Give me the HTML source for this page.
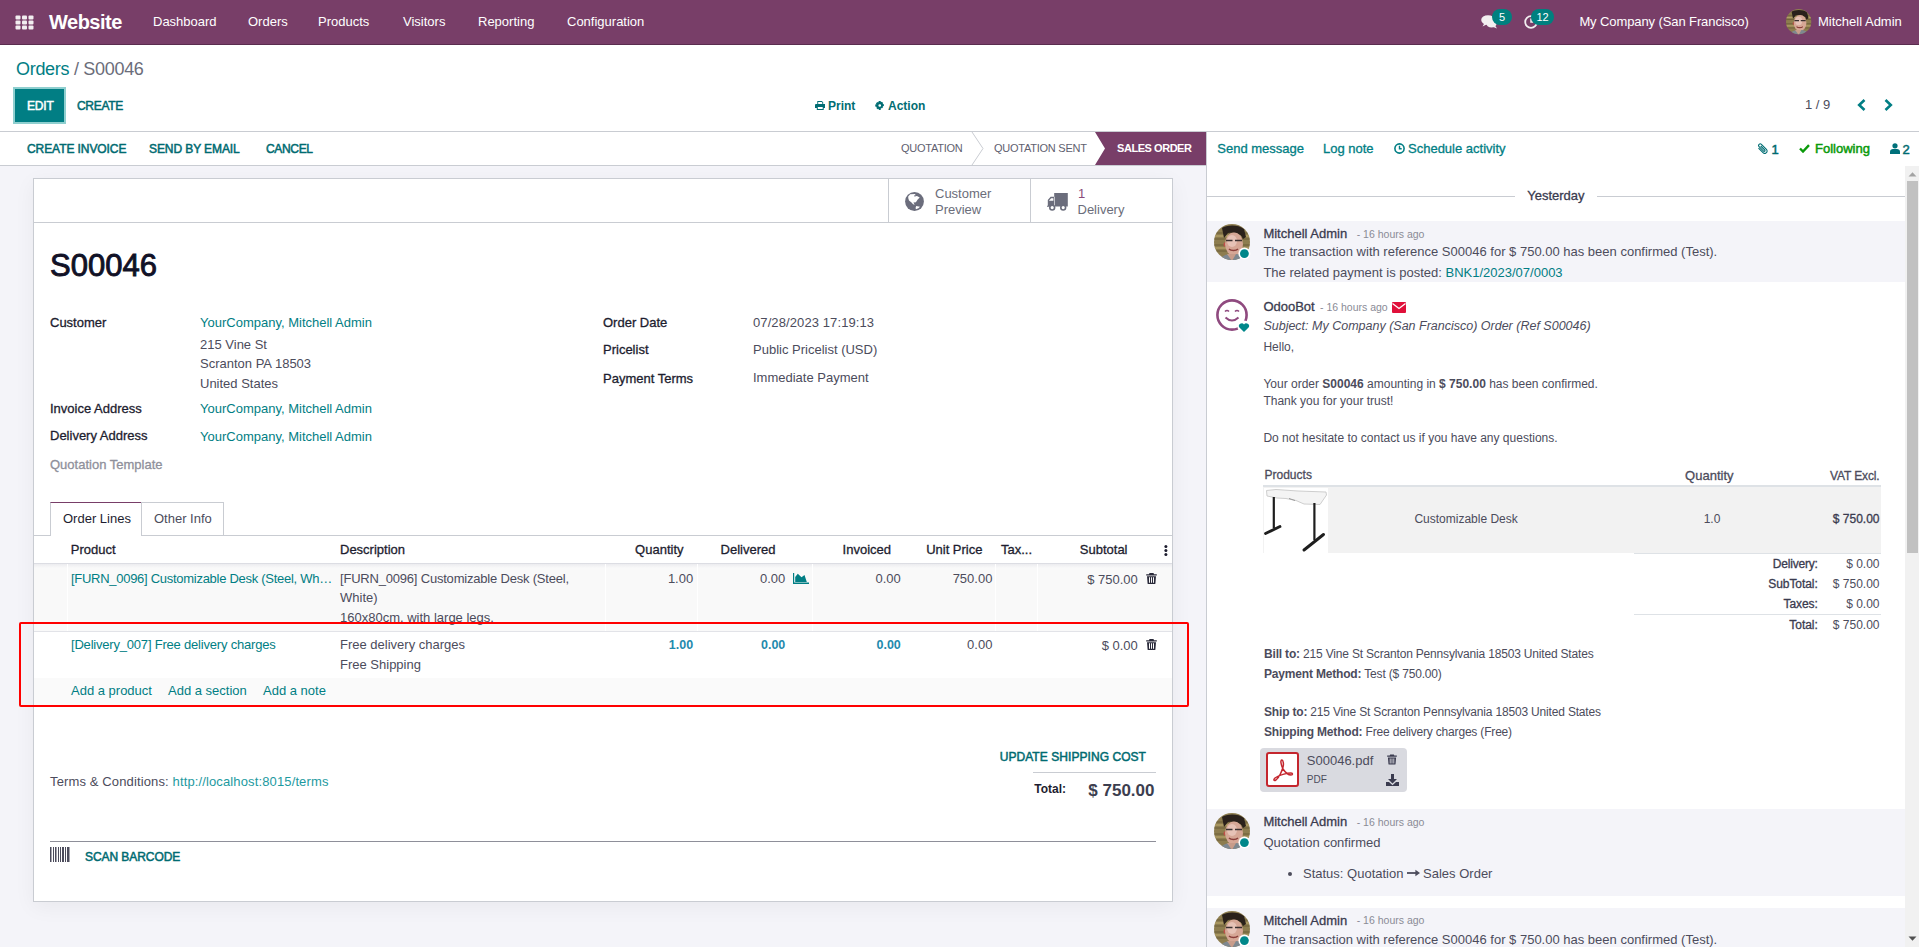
<!DOCTYPE html>
<html><head><meta charset="utf-8">
<style>
*{box-sizing:border-box;margin:0;padding:0}
html,body{width:1919px;height:947px;overflow:hidden;background:#fff;font-family:"Liberation Sans",sans-serif;font-size:13px;color:#4c4c5c}
.a{position:absolute;white-space:nowrap;line-height:1}
.b{font-weight:bold}
.m{-webkit-text-stroke:0.3px currentColor}
.ms{-webkit-text-stroke:0.5px currentColor}
.tl.ms{color:#006b71}
.tl{color:#017e84}
#nav{position:absolute;left:0;top:0;width:1919px;height:45px;background:#783e68;border-bottom:1px solid #5a2c4e}
#nav .a{color:#fff}
.badge{position:absolute;height:16px;border-radius:8px;background:#00807f;color:#fff;font-size:11px;line-height:16px;text-align:center}
#cp{position:absolute;left:0;top:45px;width:1919px;height:87px;background:#fff;border-bottom:1px solid #c9ccd2}
#left{position:absolute;left:0;top:132px;width:1206px;height:815px;background:#f4f4f9}
#sbar{position:absolute;left:0;top:0;width:1206px;height:34px;background:#fff;border-bottom:1px solid #c9ccd2}
#sheet{position:absolute;left:33px;top:46px;width:1140px;height:724px;background:#fff;border:1px solid #c9ccd2;box-shadow:0 5px 20px rgba(0,0,0,.05)}
#chat{position:absolute;left:1206px;top:132px;width:713px;height:815px;background:#fff;border-left:1px solid #c9ccd2}
</style></head>
<body>
<div id="nav">
  <svg class="a" style="left:15px;top:15px" width="19" height="15" viewBox="0 0 19 15">
    <g fill="#f2eef0">
      <rect x="0.5" y="0.5" width="5" height="4" rx="1"/><rect x="7" y="0.5" width="5" height="4" rx="1"/><rect x="13.5" y="0.5" width="5" height="4" rx="1"/>
      <rect x="0.5" y="5.5" width="5" height="4" rx="1"/><rect x="7" y="5.5" width="5" height="4" rx="1"/><rect x="13.5" y="5.5" width="5" height="4" rx="1"/>
      <rect x="0.5" y="10.5" width="5" height="4" rx="1"/><rect x="7" y="10.5" width="5" height="4" rx="1"/><rect x="13.5" y="10.5" width="5" height="4" rx="1"/>
    </g>
  </svg>
  <div class="a b" style="left:49px;top:12px;font-size:20px;letter-spacing:-0.5px">Website</div>
  <div class="a" style="left:153px;top:15px">Dashboard</div>
  <div class="a" style="left:248px;top:15px">Orders</div>
  <div class="a" style="left:318px;top:15px">Products</div>
  <div class="a" style="left:403px;top:15px">Visitors</div>
  <div class="a" style="left:478px;top:15px">Reporting</div>
  <div class="a" style="left:567px;top:15px">Configuration</div>
</div>
<div id="cp"></div>
<div class="a tl" style="left:16px;top:59.7px;font-size:18px;letter-spacing:-0.3px">Orders <span style="color:#6b6d7a">/ S00046</span></div>
<div class="a" style="left:13px;top:87px;width:53px;height:37px;border:2px solid #8fcfcf;background:#017e84"></div>
<div class="a ms" style="left:27px;top:100px;font-size:12px;color:#fff;letter-spacing:-0.2px">EDIT</div>
<div class="a tl ms" style="left:77px;top:100px;font-size:12px;letter-spacing:-0.3px">CREATE</div>
<svg class="a" style="left:814.5px;top:101px" width="10.5" height="9" viewBox="0 0 10.5 9"><path fill="#016d73" fill-rule="evenodd" d="M2.3 0h4.6l1.3 1.2v1.8h1.3a1 1 0 0 1 1 1v3h-1.8v2H1.8v-2H0v-3a1 1 0 0 1 1-1h1.3zM3.2 0.9v2.1h4.1V1.6L6.6 0.9zM2.8 6v2.1h4.9V6z"/></svg>
<div class="a b tl" style="left:828px;top:100px;font-size:12px;color:#016d73">Print</div>
<svg class="a" style="left:875px;top:101px" width="9.5" height="9" viewBox="0 0 10 10"><path fill="#016d73" fill-rule="evenodd" d="M4 0h2l.3 1.4 1-.6 1.5 1.4-.6 1 1.4.3v2l-1.4.3.6 1-1.4 1.4-1-.6L6 10H4l-.3-1.4-1 .6-1.5-1.4.6-1L0 6V4l1.4-.3-.6-1L2.2 1.2l1 .6zM5 3.5a1.5 1.5 0 1 0 0 3 1.5 1.5 0 0 0 0-3z"/></svg>
<div class="a b tl" style="left:888px;top:100px;font-size:12px;color:#016d73">Action</div>
<div class="a" style="left:1805px;top:98px;font-size:13px;color:#4c4c5c">1 / 9</div>
<svg class="a" style="left:1857px;top:99px" width="9" height="12" viewBox="0 0 9 12"><path fill="none" stroke="#017e84" stroke-width="2.6" d="M7.5 1L2.2 6l5.3 5"/></svg>
<svg class="a" style="left:1884px;top:99px" width="9" height="12" viewBox="0 0 9 12"><path fill="none" stroke="#017e84" stroke-width="2.6" d="M1.5 1l5.3 5-5.3 5"/></svg>
<div id="left">
  <div id="sbar"></div>
  <div id="sheet"></div>
</div>
<div class="a tl ms" style="left:27px;top:143px;font-size:12px;letter-spacing:-0.08px">CREATE INVOICE</div>
<div class="a tl ms" style="left:149px;top:143px;font-size:12px;letter-spacing:-0.09px">SEND BY EMAIL</div>
<div class="a tl ms" style="left:266px;top:143px;font-size:12px;letter-spacing:-0.33px">CANCEL</div>
<div class="a" style="left:901px;top:143px;font-size:11px;color:#5f6170;letter-spacing:-0.25px">QUOTATION</div>
<svg class="a" style="left:970px;top:132px" width="15" height="33" viewBox="0 0 15 33"><path fill="none" stroke="#c9ccd2" stroke-width="1" d="M2 0L13 16.5L2 33"/></svg>
<div class="a" style="left:994px;top:143px;font-size:11px;color:#5f6170;letter-spacing:-0.25px">QUOTATION SENT</div>
<svg class="a" style="left:1095px;top:132px" width="111" height="33" viewBox="0 0 111 33"><path fill="#783e68" d="M0 0H111V33H0L10 16.5z"/></svg>
<div class="a b" style="left:1117px;top:143px;font-size:11px;color:#fff;letter-spacing:-0.45px">SALES ORDER</div>
<div id="chat">
</div>
<div class="a" style="left:34px;top:179px;width:1138px;height:44px;border-bottom:1px solid #c9ccd2"></div>
<div class="a" style="left:888px;top:179px;width:1px;height:44px;background:#c9ccd2"></div>
<div class="a" style="left:1030px;top:179px;width:1px;height:44px;background:#c9ccd2"></div>
<svg class="a" style="left:905px;top:192px" width="19" height="19" viewBox="0 0 19 19"><circle cx="9.5" cy="9.5" r="9.4" fill="#6b6d7c"/><path fill="#fff" d="M3.2 4.6L5.2 2.3 10.6 2.1 9.8 3.3 11 4 12.5 4.3 14.7 5.5 12.5 7.8 10.9 10.3 8.4 10.6 9.7 12.8 8.1 12.2 6.5 10.6 4 8.4 3.3 6.2z"/><path fill="#6b6d7c" d="M9.3 3.2h1.4v1.3H9.3z"/><path fill="#fff" d="M11.2 14.1L15 14.7 13.4 16.3 10.9 17.3 10.6 15.7z"/></svg>
<div class="a " style="left:935px;top:187.0px;font-size:13px;color:#6b6d7a">Customer</div>
<div class="a " style="left:935px;top:202.6px;font-size:13px;color:#6b6d7a">Preview</div>
<svg class="a" style="left:1047px;top:192px" width="22" height="19" viewBox="0 0 22 19"><path fill="#6b6d7c" d="M7.2 1.1H20.8V14.6H7.2zM7.8 4.8H3.6L0.8 7.9V13.8H0V14.8H7.8z"/><path fill="#fff" d="M2.1 8.6L4.2 6.3H6.4V8.8H2.1z"/><circle cx="5.2" cy="15.6" r="2.4" fill="#fff" stroke="#6b6d7c" stroke-width="1.6"/><circle cx="16.2" cy="15.6" r="2.4" fill="#fff" stroke="#6b6d7c" stroke-width="1.6"/></svg>
<div class="a " style="left:1078px;top:187.0px;font-size:13px;color:#8a4a7a">1</div>
<div class="a " style="left:1077.5px;top:202.6px;font-size:13px;color:#6b6d7a">Delivery</div>
<div class="a" style="left:50px;top:250px;font-size:31px;color:#111126;-webkit-text-stroke:0.9px #111126">S00046</div>
<div class="a m" style="left:50px;top:316.27px;font-size:13px;color:#1d1d2f;">Customer</div>
<div class="a tl" style="left:200px;top:316.0px;font-size:13px;">YourCompany, Mitchell Admin</div>
<div class="a " style="left:200px;top:338.3px;font-size:13px;color:#4c4c5c">215 Vine St</div>
<div class="a " style="left:200px;top:357.0px;font-size:13px;color:#4c4c5c">Scranton PA 18503</div>
<div class="a " style="left:200px;top:376.8px;font-size:13px;color:#4c4c5c">United States</div>
<div class="a m" style="left:50px;top:401.87px;font-size:13px;color:#1d1d2f;">Invoice Address</div>
<div class="a tl" style="left:200px;top:402.0px;font-size:13px;">YourCompany, Mitchell Admin</div>
<div class="a m" style="left:50px;top:429.37px;font-size:13px;color:#1d1d2f;">Delivery Address</div>
<div class="a tl" style="left:200px;top:429.5px;font-size:13px;">YourCompany, Mitchell Admin</div>
<div class="a m" style="left:50px;top:457.67px;font-size:13px;color:#8f909b">Quotation Template</div>
<div class="a m" style="left:603px;top:315.87px;font-size:13px;color:#1d1d2f;">Order Date</div>
<div class="a " style="left:753px;top:315.5px;font-size:13px;color:#4c4c5c;letter-spacing:0.1px">07/28/2023 17:19:13</div>
<div class="a m" style="left:603px;top:343.47px;font-size:13px;color:#1d1d2f;">Pricelist</div>
<div class="a " style="left:753px;top:343.0px;font-size:13px;color:#4c4c5c">Public Pricelist (USD)</div>
<div class="a m" style="left:603px;top:371.67px;font-size:13px;color:#1d1d2f;">Payment Terms</div>
<div class="a " style="left:753px;top:371.0px;font-size:13px;color:#4c4c5c">Immediate Payment</div>
<div class="a" style="left:34px;top:535px;width:1138px;height:1px;background:#c9ccd2"></div>
<div class="a" style="left:50px;top:502px;width:92px;height:34px;background:#fff;border:1px solid #c9ccd2;border-top-color:#783e68;border-bottom:none"></div>
<div class="a" style="left:141px;top:502px;width:83px;height:34px;background:#fff;border:1px solid #c9ccd2;border-bottom:none"></div>
<div class="a" style="left:141px;top:535px;width:83px;height:1px;background:#c9ccd2"></div>
<div class="a " style="left:63px;top:512.0px;font-size:13px;color:#1d1d2f">Order Lines</div>
<div class="a " style="left:154px;top:512.0px;font-size:13px;color:#4c4c5c">Other Info</div>
<div class="a" style="left:34px;top:563px;width:1138px;height:1px;background:#dcdde3"></div>
<div class="a m" style="left:70.8px;top:542.87px;font-size:13px;color:#1d1d2f">Product</div>
<div class="a m" style="left:340px;top:542.87px;font-size:13px;color:#1d1d2f">Description</div>
<div class="a m" style="right:1235.5px;top:542.87px;font-size:13px;color:#1d1d2f">Quantity</div>
<div class="a m" style="right:1143.5px;top:542.87px;font-size:13px;color:#1d1d2f">Delivered</div>
<div class="a m" style="right:1028px;top:542.87px;font-size:13px;color:#1d1d2f">Invoiced</div>
<div class="a m" style="right:936.5px;top:542.87px;font-size:13px;color:#1d1d2f">Unit Price</div>
<div class="a m" style="left:1001px;top:542.87px;font-size:13px;color:#1d1d2f">Tax...</div>
<div class="a m" style="right:791.5px;top:542.87px;font-size:13px;color:#1d1d2f">Subtotal</div>
<svg class="a" style="left:1164px;top:545px" width="4" height="11" viewBox="0 0 4 11"><g fill="#1d1d2f"><circle cx="1.9" cy="1.5" r="1.5"/><circle cx="1.9" cy="5.5" r="1.5"/><circle cx="1.9" cy="9.5" r="1.5"/></g></svg>
<div class="a" style="left:34px;top:564px;width:1138px;height:67px;background:#f9f9f9"></div>
<div class="a" style="left:34px;top:564px;width:1138px;height:4px;background:linear-gradient(#ececef,#f9f9f9)"></div>
<div class="a" style="left:34px;top:631px;width:1138px;height:1px;background:#e2e3e8"></div>
<div class="a" style="left:34px;top:632px;width:1138px;height:46px;background:#ffffff"></div>
<div class="a" style="left:34px;top:678px;width:1138px;height:27px;background:#fafafa"></div>
<div class="a" style="left:67px;top:564px;width:1px;height:67px;background:#ffffff"></div>
<div class="a" style="left:605px;top:564px;width:1px;height:67px;background:#ffffff"></div>
<div class="a" style="left:697px;top:564px;width:1px;height:67px;background:#ffffff"></div>
<div class="a" style="left:812px;top:564px;width:1px;height:67px;background:#ffffff"></div>
<div class="a" style="left:995px;top:564px;width:1px;height:67px;background:#ffffff"></div>
<div class="a" style="left:1037px;top:564px;width:1px;height:67px;background:#ffffff"></div>
<div class="a tl" style="left:71px;top:572.2px;font-size:13px;letter-spacing:-0.28px">[FURN_0096] Customizable Desk (Steel, Wh…</div>
<div class="a " style="left:340px;top:572.2px;font-size:13px;color:#4c4c5c;letter-spacing:-0.2px">[FURN_0096] Customizable Desk (Steel,</div>
<div class="a " style="left:340px;top:590.7px;font-size:13px;color:#4c4c5c">White)</div>
<div class="a " style="left:340px;top:610.8px;font-size:13px;color:#4c4c5c">160x80cm, with large legs.</div>
<div class="a " style="right:1225.8px;top:572.0px;font-size:13px;color:#4c4c5c">1.00</div>
<div class="a " style="right:1133.7px;top:572.0px;font-size:13px;color:#4c4c5c">0.00</div>
<svg class="a" style="left:793px;top:573px" width="16" height="11" viewBox="0 0 16 11"><path fill="#017e84" d="M0 0h1.2v9.6H16V11H0z"/><path fill="#017e84" d="M2.2 9V4l2.6-3.2L8.5 4.3l3-2.2L13.8 9z"/></svg>
<div class="a " style="right:1018.2px;top:572.0px;font-size:13px;color:#4c4c5c">0.00</div>
<div class="a " style="right:926.6px;top:572.0px;font-size:13px;color:#4c4c5c">750.00</div>
<div class="a " style="right:781.2px;top:573.0px;font-size:13px;color:#4c4c5c">$ 750.00</div>
<svg class="a" style="left:1145.5px;top:573px" width="11" height="11" viewBox="0 0 11 11"><path fill="#2a2a3a" d="M3.5 0h4l.5 1.2h2.8v1.4H0.2V1.2H3zM1 3.2h9l-.6 7.2a.7.7 0 0 1-.7.6H2.3a.7.7 0 0 1-.7-.6zM3 4.3v5.5h1V4.3zM5 4.3v5.5h1V4.3zM7 4.3v5.5h1V4.3z"/></svg>
<div class="a tl" style="left:71px;top:638.0px;font-size:13px;letter-spacing:-0.2px">[Delivery_007] Free delivery charges</div>
<div class="a " style="left:340px;top:638.0px;font-size:13px;color:#4c4c5c">Free delivery charges</div>
<div class="a " style="left:340px;top:658.0px;font-size:13px;color:#4c4c5c">Free Shipping</div>
<div class="a " style="right:1225.8px;top:638.5px;font-size:13px;color:#1f8aad;font-weight:bold;font-size:12.5px">1.00</div>
<div class="a " style="right:1133.7px;top:638.5px;font-size:13px;color:#1f8aad;font-weight:bold;font-size:12.5px">0.00</div>
<div class="a " style="right:1018.2px;top:638.5px;font-size:13px;color:#1f8aad;font-weight:bold;font-size:12.5px">0.00</div>
<div class="a " style="right:926.6px;top:638.0px;font-size:13px;color:#4c4c5c">0.00</div>
<div class="a " style="right:781.2px;top:639.0px;font-size:13px;color:#4c4c5c">$ 0.00</div>
<svg class="a" style="left:1145.5px;top:638.5px" width="11" height="11" viewBox="0 0 11 11"><path fill="#2a2a3a" d="M3.5 0h4l.5 1.2h2.8v1.4H0.2V1.2H3zM1 3.2h9l-.6 7.2a.7.7 0 0 1-.7.6H2.3a.7.7 0 0 1-.7-.6zM3 4.3v5.5h1V4.3zM5 4.3v5.5h1V4.3zM7 4.3v5.5h1V4.3z"/></svg>
<div class="a tl" style="left:71px;top:683.8px;font-size:13px;">Add a product</div>
<div class="a tl" style="left:168px;top:683.8px;font-size:13px;">Add a section</div>
<div class="a tl" style="left:263px;top:683.8px;font-size:13px;">Add a note</div>
<div class="a" style="left:19px;top:622px;width:1170px;height:85px;border:2px solid #ff0000;border-radius:2px"></div>
<div class="a tl ms" style="right:773px;top:750.5px;font-size:12px;letter-spacing:0.06px">UPDATE SHIPPING COST</div>
<div class="a" style="left:1033px;top:772px;width:123px;height:1px;background:#c9ccd2"></div>
<div class="a b" style="left:1034.3px;top:782.6px;font-size:12px;color:#1d1d2f">Total:</div>
<div class="a b" style="right:764.5px;top:782.0px;font-size:17px;color:#3c3e4f">$ 750.00</div>
<div class="a " style="left:50px;top:774.5px;font-size:13px;color:#4c4c5c;letter-spacing:0.13px">Terms &amp; Conditions: <span style="color:#1d9a9f">http://localhost:8015/terms</span></div>
<div class="a" style="left:50px;top:841px;width:1106px;height:1px;background:#8e8f99"></div>
<svg class="a" style="left:50px;top:847px" width="21" height="16" viewBox="0 0 21 16"><g fill="#4c4c5c"><rect x="0" width="1.5" height="15"/><rect x="3" width="1" height="15"/><rect x="5" width="1.5" height="15"/><rect x="8" width="1" height="15"/><rect x="10" width="1" height="15"/><rect x="12" width="2" height="15"/><rect x="15" width="1" height="15"/><rect x="17" width="2.5" height="15"/></g></svg>
<div class="a tl ms" style="left:85px;top:850.9px;font-size:12px;letter-spacing:-0.06px">SCAN BARCODE</div>
<div class="a tl m" style="left:1217.3px;top:142.07px;font-size:13px;">Send message</div>
<div class="a tl m" style="left:1323px;top:142.07px;font-size:13px;">Log note</div>
<svg class="a" style="left:1394px;top:143px" width="11" height="11" viewBox="0 0 11 11"><circle cx="5.5" cy="5.5" r="4.6" fill="none" stroke="#017e84" stroke-width="1.6"/><path fill="none" stroke="#017e84" stroke-width="1.4" d="M5.5 2.8v3h2.2"/></svg>
<div class="a tl m" style="left:1408px;top:142.07px;font-size:13px;">Schedule activity</div>
<svg class="a" style="left:1757px;top:143px" width="11" height="11" viewBox="0 0 11 11"><g transform="translate(11 0) scale(-1 1)"><path fill="none" stroke="#016d73" stroke-width="1.1" d="M9.5 5.2L5 9.7a2.4 2.4 0 0 1-3.4-3.4L6.6 1.3a1.6 1.6 0 0 1 2.3 2.3L4.2 8.3a.8.8 0 0 1-1.1-1.1L7.3 3"/></g></svg>
<div class="a tl ms" style="left:1771.5px;top:142.57px;font-size:13px;">1</div>
<svg class="a" style="left:1799px;top:144px" width="11" height="9" viewBox="0 0 11 9"><path fill="none" stroke="#0a9a0a" stroke-width="2.4" d="M1 4.5l3 3L10 1.2"/></svg>
<div class="a ms" style="left:1815px;top:142.07px;font-size:13px;color:#0a9a0a;">Following</div>
<svg class="a" style="left:1890px;top:143px" width="10" height="11" viewBox="0 0 10 11"><circle cx="5" cy="2.8" r="2.6" fill="#00707a"/><path fill="#00707a" d="M0 11V8.6C0 7 1.4 6 3 6h4c1.6 0 3 1 3 2.6V11z"/></svg>
<div class="a tl ms" style="left:1902.6px;top:142.57px;font-size:13px;">2</div>
<div class="a" style="left:1905px;top:166px;width:14px;height:781px;background:#f1f1f1"></div>
<div class="a" style="left:1907px;top:181px;width:11px;height:372px;background:#c1c1c1"></div>
<svg class="a" style="left:1908px;top:171px" width="9" height="6" viewBox="0 0 9 6"><path fill="#a3a3a3" d="M0.5 5.5L4.5 1.2L8.5 5.5z"/></svg>
<svg class="a" style="left:1908px;top:936px" width="9" height="6" viewBox="0 0 9 6"><path fill="#505050" d="M0.5 0.5L4.5 4.8L8.5 0.5z"/></svg>
<div class="a" style="left:1207px;top:196px;width:308px;height:1px;background:#c9ccd2"></div>
<div class="a" style="left:1597px;top:196px;width:308px;height:1px;background:#c9ccd2"></div>
<div class="a m" style="left:1527.2px;top:189.47px;font-size:13px;color:#3a3b4f">Yesterday</div>
<div class="a" style="left:1207px;top:221px;width:698px;height:61px;background:#f4f4f9"></div>
<svg class="a" style="left:1214px;top:223.7px" width="37" height="37" viewBox="0 0 37 37">
<defs><clipPath id="c1"><circle cx="18" cy="18" r="18"/></clipPath></defs>
<g clip-path="url(#c1)"><rect width="37" height="37" fill="#8d7d4f"/>
<path d="M0 9h37M0 15h37M0 21h37M0 27h37" stroke="#6d5f38" stroke-width="1.2"/><path d="M0 12h37M0 24h37" stroke="#b09d66" stroke-width="1.5"/>
<path d="M8 4C12 1 24 0 30 5l2 8-3 2C27 9 20 8 14 9l-4 5z" fill="#2a211b"/>
<ellipse cx="20" cy="20" rx="9" ry="11.5" fill="#d6a796"/><ellipse cx="18" cy="17" rx="5" ry="6" fill="#e6c2b6"/>
<path d="M12 16.5h6.5M21 16.5h7" stroke="#3a3030" stroke-width="1.6"/>
<path d="M15 25c2 2 7 2 9 0" stroke="#8a3f3a" stroke-width="1.5" fill="none"/><path d="M11 18c-2 1-2 4 0 5z" fill="#c0504a"/>
<path d="M6 37c1-5 5-7 13-7s12 2 13 7z" fill="#7e8890"/><path d="M13 30l5 7 4-7z" fill="#c89c8a"/></g>
<circle cx="30.4" cy="29.6" r="6" fill="#fff"/><circle cx="30.4" cy="29.6" r="4.4" fill="#00878a"/></svg>
<div class="a m" style="left:1263.4px;top:227.07px;font-size:13px;color:#3a3b4f">Mitchell Admin</div>
<div class="a " style="left:1356.7px;top:228.8px;font-size:10.5px;color:#8a8b96">- 16 hours ago</div>
<div class="a " style="left:1263.4px;top:245.3px;font-size:13px;color:#4c4c5c">The transaction with reference S00046 for $ 750.00 has been confirmed (Test).</div>
<div class="a " style="left:1263.4px;top:266.0px;font-size:13px;color:#4c4c5c">The related payment is posted: <span class="tl">BNK1/2023/07/0003</span></div>
<svg class="a" style="left:1215px;top:298px" width="36" height="36" viewBox="0 0 36 36"><circle cx="17" cy="17" r="14.6" fill="none" stroke="#8f4a7f" stroke-width="2.6"/><path d="M10 13.5q2-2 4 0M20 13.5q2-2 4 0" fill="none" stroke="#8f4a7f" stroke-width="1.6"/><path d="M10.5 19.5q6.5 6 13 0" fill="none" stroke="#8f4a7f" stroke-width="2"/><circle cx="29" cy="29" r="6.5" fill="#fff"/><path fill="#00878a" d="M29 34l-4.6-4.4a2.6 2.6 0 0 1 4.6-3 2.6 2.6 0 0 1 4.6 3z"/></svg>
<div class="a m" style="left:1263.4px;top:300.07px;font-size:13px;color:#3a3b4f">OdooBot</div>
<div class="a " style="left:1320px;top:301.8px;font-size:10.5px;color:#8a8b96">- 16 hours ago</div>
<svg class="a" style="left:1392px;top:302px" width="14" height="11" viewBox="0 0 14 11"><rect width="14" height="11" rx="1" fill="#e0103a"/><path d="M0.5 1.5L7 6.5l6.5-5" fill="none" stroke="#fff" stroke-width="1.3"/></svg>
<div class="a " style="left:1263.4px;top:320.4px;font-size:12.5px;color:#4c4c5c;font-style:italic">Subject: My Company (San Francisco) Order (Ref S00046)</div>
<div class="a " style="left:1263.4px;top:341.1px;font-size:12px;color:#4c4c5c">Hello,</div>
<div class="a " style="left:1263.4px;top:377.5px;font-size:12px;color:#4c4c5c">Your order <b>S00046</b> amounting in <b>$ 750.00</b> has been confirmed.</div>
<div class="a " style="left:1263.4px;top:395.4px;font-size:12px;color:#4c4c5c">Thank you for your trust!</div>
<div class="a " style="left:1263.4px;top:431.5px;font-size:12px;color:#4c4c5c">Do not hesitate to contact us if you have any questions.</div>
<div class="a m" style="left:1264.4px;top:469.3px;font-size:12px;color:#4c4c5c;letter-spacing:0.03px">Products</div>
<div class="a m" style="right:185.5px;top:469.47px;font-size:13px;color:#4c4c5c;">Quantity</div>
<div class="a m" style="right:39.5px;top:469.6px;font-size:12px;color:#4c4c5c;letter-spacing:-0.13px">VAT Excl.</div>
<div class="a" style="left:1263px;top:485px;width:618px;height:2px;background:#dee2e6"></div>
<div class="a" style="left:1263px;top:487px;width:618px;height:66px;background:#f2f2f2"></div>
<svg class="a" style="left:1264px;top:488px" width="64" height="65" viewBox="0 0 64 65"><rect width="64" height="65" fill="#fff"/>
<path d="M2.5 2.5L12 1.5 34 3 62 4 62.5 7 56 16.5 40 16 32 12.5 22 10.5 13 10 3 8z" fill="#f4f4f4" stroke="#c8c8c8" stroke-width="0.9"/>
<path d="M25 10.5l6 2" stroke="#9a9a9a" stroke-width="1"/>
<path d="M9.8 9v31" stroke="#1e1e1e" stroke-width="2.2"/><path d="M1.5 45.5L16 38.5" stroke="#1e1e1e" stroke-width="2.8" stroke-linecap="round"/>
<path d="M50.4 15v37" stroke="#1e1e1e" stroke-width="2.2"/><path d="M40 62L59.5 46.5" stroke="#1e1e1e" stroke-width="3" stroke-linecap="round"/></svg>
<div class="a " style="left:1414.4px;top:513.1px;font-size:12px;color:#4c4c5c">Customizable Desk</div>
<div class="a " style="left:1703.7px;top:513.1px;font-size:12px;color:#4c4c5c">1.0</div>
<div class="a m" style="right:39.5px;top:513.1px;font-size:12px;color:#3a3b4f;letter-spacing:0px">$ 750.00</div>
<div class="a" style="left:1634px;top:553px;width:247px;height:1px;background:#dee2e6"></div>
<div class="a m" style="right:101.29999999999995px;top:558.1px;font-size:12px;color:#3a3b4f;letter-spacing:-0.19px">Delivery:</div>
<div class="a " style="right:39.5px;top:558.1px;font-size:12px;color:#4c4c5c">$ 0.00</div>
<div class="a m" style="right:101.29999999999995px;top:578.1px;font-size:12px;color:#3a3b4f;letter-spacing:-0.07px">SubTotal:</div>
<div class="a " style="right:39.5px;top:578.1px;font-size:12px;color:#4c4c5c">$ 750.00</div>
<div class="a m" style="right:101.29999999999995px;top:598.1px;font-size:12px;color:#3a3b4f;letter-spacing:-0.1px">Taxes:</div>
<div class="a " style="right:39.5px;top:598.1px;font-size:12px;color:#4c4c5c">$ 0.00</div>
<div class="a m" style="right:101.29999999999995px;top:619.1px;font-size:12px;color:#3a3b4f;letter-spacing:-0.05px">Total:</div>
<div class="a " style="right:39.5px;top:619.1px;font-size:12px;color:#4c4c5c">$ 750.00</div>
<div class="a" style="left:1634px;top:614px;width:247px;height:1px;background:#dee2e6"></div>
<div class="a " style="left:1264px;top:647.7px;font-size:12px;color:#4c4c5c;letter-spacing:-0.18px"><b>Bill to:</b> 215 Vine St Scranton Pennsylvania 18503 United States</div>
<div class="a " style="left:1264px;top:667.5px;font-size:12px;color:#4c4c5c;letter-spacing:-0.18px"><b>Payment Method:</b> Test ($ 750.00)</div>
<div class="a " style="left:1264px;top:705.7px;font-size:12px;color:#4c4c5c;letter-spacing:-0.18px"><b>Ship to:</b> 215 Vine St Scranton Pennsylvania 18503 United States</div>
<div class="a " style="left:1264px;top:725.6px;font-size:12px;color:#4c4c5c;letter-spacing:-0.18px"><b>Shipping Method:</b> Free delivery charges (Free)</div>
<div class="a" style="left:1260px;top:748px;width:147px;height:44px;background:#d9dae0;border-radius:4px"></div>
<svg class="a" style="left:1266px;top:752px" width="33" height="35" viewBox="0 0 33 35"><rect x="1" y="1" width="31" height="33" rx="2" fill="#fff" stroke="#c4262e" stroke-width="2"/><path d="M16 8c-2 0-1 5 1 9 2 3 5 6 8 6 2 0 2-2 0-2-4 0-12 2-16 5-2 2-1 3 1 2 3-2 6-9 7-13 1-3 0-7-1-7z" fill="none" stroke="#c4262e" stroke-width="1.5"/></svg>
<div class="a " style="left:1306.8px;top:754.4px;font-size:13px;color:#4c4c5c">S00046.pdf</div>
<div class="a " style="left:1306.8px;top:774.6px;font-size:10px;color:#4c4c5c">PDF</div>
<svg class="a" style="left:1387px;top:754px" width="10" height="11" viewBox="0 0 11 11"><path fill="#3a3b4f" d="M3.5 0h4l.5 1.2h2.8v1.4H0.2V1.2H3zM1 3.2h9l-.6 7.2a.7.7 0 0 1-.7.6H2.3a.7.7 0 0 1-.7-.6zM3 4.3v5.5h1V4.3zM5 4.3v5.5h1V4.3zM7 4.3v5.5h1V4.3z"/></svg>
<svg class="a" style="left:1386px;top:774px" width="13" height="12" viewBox="0 0 13 12"><path fill="#3a3b4f" d="M5 0h3v5h3L6.5 9.5 2 5h3zM0 8h3l3.5 3.2L10 8h3v4H0z"/></svg>
<div class="a" style="left:1207px;top:809px;width:698px;height:87px;background:#f4f4f9"></div>
<svg class="a" style="left:1214px;top:812.5px" width="37" height="37" viewBox="0 0 37 37">
<defs><clipPath id="c3"><circle cx="18" cy="18" r="18"/></clipPath></defs>
<g clip-path="url(#c3)"><rect width="37" height="37" fill="#8d7d4f"/>
<path d="M0 9h37M0 15h37M0 21h37M0 27h37" stroke="#6d5f38" stroke-width="1.2"/><path d="M0 12h37M0 24h37" stroke="#b09d66" stroke-width="1.5"/>
<path d="M8 4C12 1 24 0 30 5l2 8-3 2C27 9 20 8 14 9l-4 5z" fill="#2a211b"/>
<ellipse cx="20" cy="20" rx="9" ry="11.5" fill="#d6a796"/><ellipse cx="18" cy="17" rx="5" ry="6" fill="#e6c2b6"/>
<path d="M12 16.5h6.5M21 16.5h7" stroke="#3a3030" stroke-width="1.6"/>
<path d="M15 25c2 2 7 2 9 0" stroke="#8a3f3a" stroke-width="1.5" fill="none"/><path d="M11 18c-2 1-2 4 0 5z" fill="#c0504a"/>
<path d="M6 37c1-5 5-7 13-7s12 2 13 7z" fill="#7e8890"/><path d="M13 30l5 7 4-7z" fill="#c89c8a"/></g>
<circle cx="30.4" cy="29.6" r="6" fill="#fff"/><circle cx="30.4" cy="29.6" r="4.4" fill="#00878a"/></svg>
<div class="a m" style="left:1263.4px;top:815.07px;font-size:13px;color:#3a3b4f">Mitchell Admin</div>
<div class="a " style="left:1356.7px;top:816.8px;font-size:10.5px;color:#8a8b96">- 16 hours ago</div>
<div class="a " style="left:1263.4px;top:835.6px;font-size:13px;color:#4c4c5c">Quotation confirmed</div>
<div class="a" style="left:1288px;top:872px;width:4px;height:4px;border-radius:2px;background:#4c4c5c"></div>
<div class="a " style="left:1303px;top:866.8px;font-size:13px;color:#4c4c5c">Status: Quotation <svg width="13" height="8" viewBox="0 0 13 8" style="vertical-align:1px;margin-right:3px"><path d="M0 4h10" stroke="#4c4c5c" stroke-width="1.8"/><path d="M8.4 0.8L13 4 8.4 7.2z" fill="#4c4c5c"/></svg>Sales Order</div>
<div class="a" style="left:1207px;top:908px;width:698px;height:39px;background:#f4f4f9"></div>
<svg class="a" style="left:1214px;top:910.5px" width="37" height="37" viewBox="0 0 37 37">
<defs><clipPath id="c4"><circle cx="18" cy="18" r="18"/></clipPath></defs>
<g clip-path="url(#c4)"><rect width="37" height="37" fill="#8d7d4f"/>
<path d="M0 9h37M0 15h37M0 21h37M0 27h37" stroke="#6d5f38" stroke-width="1.2"/><path d="M0 12h37M0 24h37" stroke="#b09d66" stroke-width="1.5"/>
<path d="M8 4C12 1 24 0 30 5l2 8-3 2C27 9 20 8 14 9l-4 5z" fill="#2a211b"/>
<ellipse cx="20" cy="20" rx="9" ry="11.5" fill="#d6a796"/><ellipse cx="18" cy="17" rx="5" ry="6" fill="#e6c2b6"/>
<path d="M12 16.5h6.5M21 16.5h7" stroke="#3a3030" stroke-width="1.6"/>
<path d="M15 25c2 2 7 2 9 0" stroke="#8a3f3a" stroke-width="1.5" fill="none"/><path d="M11 18c-2 1-2 4 0 5z" fill="#c0504a"/>
<path d="M6 37c1-5 5-7 13-7s12 2 13 7z" fill="#7e8890"/><path d="M13 30l5 7 4-7z" fill="#c89c8a"/></g>
<circle cx="30.4" cy="29.6" r="6" fill="#fff"/><circle cx="30.4" cy="29.6" r="4.4" fill="#00878a"/></svg>
<div class="a m" style="left:1263.4px;top:913.57px;font-size:13px;color:#3a3b4f">Mitchell Admin</div>
<div class="a " style="left:1356.7px;top:915.3px;font-size:10.5px;color:#8a8b96">- 16 hours ago</div>
<div class="a " style="left:1263.4px;top:933.2px;font-size:13px;color:#4c4c5c">The transaction with reference S00046 for $ 750.00 has been confirmed (Test).</div>
<svg class="a" style="left:1481px;top:15px" width="17" height="14" viewBox="0 0 17 14"><ellipse cx="7" cy="5" rx="6.8" ry="4.8" fill="#f2eef0"/><path d="M1.5 11.5l2-3.5 3 1z" fill="#f2eef0"/><ellipse cx="10.5" cy="9" rx="5" ry="3.5" fill="#f2eef0"/><path d="M16 13.6l-2-3-3 .8z" fill="#f2eef0"/></svg>
<div class="badge" style="left:1492px;top:9px;width:20px">5</div>
<svg class="a" style="left:1524px;top:14.5px" width="14" height="14" viewBox="0 0 14 14"><circle cx="7" cy="7" r="5.8" fill="none" stroke="#f2eef0" stroke-width="1.8"/><path d="M7 3.5V7h2.5" fill="none" stroke="#f2eef0" stroke-width="1.5"/></svg>
<div class="badge" style="left:1531px;top:9px;width:23px">12</div>
<div class="a" style="left:1579.4px;top:15px;color:#fff;letter-spacing:-0.1px">My Company (San Francisco)</div>
<svg class="a" style="left:1786px;top:9px" width="26" height="26" viewBox="0 0 37 37">
<defs><clipPath id="c0"><circle cx="18" cy="18" r="18"/></clipPath></defs>
<g clip-path="url(#c0)"><rect width="37" height="37" fill="#8d7d4f"/>
<path d="M0 9h37M0 15h37M0 21h37M0 27h37" stroke="#6d5f38" stroke-width="1.2"/><path d="M0 12h37M0 24h37" stroke="#b09d66" stroke-width="1.5"/>
<path d="M8 4C12 1 24 0 30 5l2 8-3 2C27 9 20 8 14 9l-4 5z" fill="#2a211b"/>
<ellipse cx="20" cy="20" rx="9" ry="11.5" fill="#d6a796"/><ellipse cx="18" cy="17" rx="5" ry="6" fill="#e6c2b6"/>
<path d="M12 16.5h6.5M21 16.5h7" stroke="#3a3030" stroke-width="1.6"/>
<path d="M15 25c2 2 7 2 9 0" stroke="#8a3f3a" stroke-width="1.5" fill="none"/><path d="M11 18c-2 1-2 4 0 5z" fill="#c0504a"/>
<path d="M6 37c1-5 5-7 13-7s12 2 13 7z" fill="#7e8890"/><path d="M13 30l5 7 4-7z" fill="#c89c8a"/></g>
</svg>
<div class="a" style="left:1818px;top:15px;color:#fff">Mitchell Admin</div>
</body></html>
